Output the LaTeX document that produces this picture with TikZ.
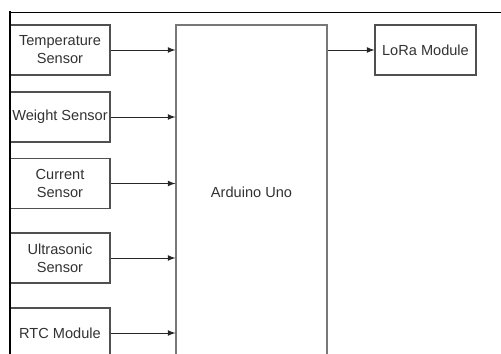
\documentclass[tikz,border=0pt]{standalone}
\usepackage{fontspec}
\setmainfont{Liberation Sans}
\usetikzlibrary{arrows, positioning}
\definecolor{boxline}{RGB}{80,80,80}
\definecolor{unoline}{RGB}{120,120,120}
\definecolor{labeltext}{RGB}{50,50,50}

\begin{document}
\begin{tikzpicture}[
    x=0.02cm, y=-0.02cm,
    block/.style={rectangle, draw=boxline, line width=0.6pt, minimum width=2cm, minimum height=1cm, inner sep=0.5pt, align=center, text=labeltext, font=\fontsize{8.3}{10.2}\selectfont},
    mcu/.style={rectangle, draw=unoline, line width=0.7pt, minimum width=3.02cm, minimum height=6.68cm, text=labeltext, font=\fontsize{8.3}{10.2}\selectfont},
    arrow/.style={->, >=latex, line width=0.5pt, black!85},
    frame/.style={black, line cap=rect}
]
    \useasboundingbox (0,0) rectangle (501,354);
    \clip (0,0) rectangle (501,354);

    % Controller
    \node[mcu] (uno) at (251.5,192) {Arduino Uno};

    % Sensors
    \node[block] (temp) at (60,50) {Temperature\\Sensor};
    \node[block] (weight) at (60,117) {Weight Sensor};
    \node[block] (current) at (60,183.5) {Current\\Sensor};
    \node[block] (ultra) at (60,258) {Ultrasonic\\Sensor};
    \node[block] (rtc) at (60,333) {RTC Module};

    % Radio
    \node[block, minimum width=2.02cm] (lora) at (425.5,50) {LoRa Module};

    % Links
    \draw[arrow] (temp.east) -- (temp.east -| uno.west);
    \draw[arrow] (weight.east) -- (weight.east -| uno.west);
    \draw[arrow] (current.east) -- (current.east -| uno.west);
    \draw[arrow] (ultra.east) -- (ultra.east -| uno.west);
    \draw[arrow] (rtc.east) -- (rtc.east -| uno.west);
    \draw[arrow] (lora.west -| uno.east) -- (lora.west);

    % Frame of the screenshot
    \draw[frame, line width=1.4pt] (9.8,360) -- (9.8,12.5);
    \draw[frame, line width=0.8pt] (9.8,12.5) -- (505,12.5);

\end{tikzpicture}
\end{document}
